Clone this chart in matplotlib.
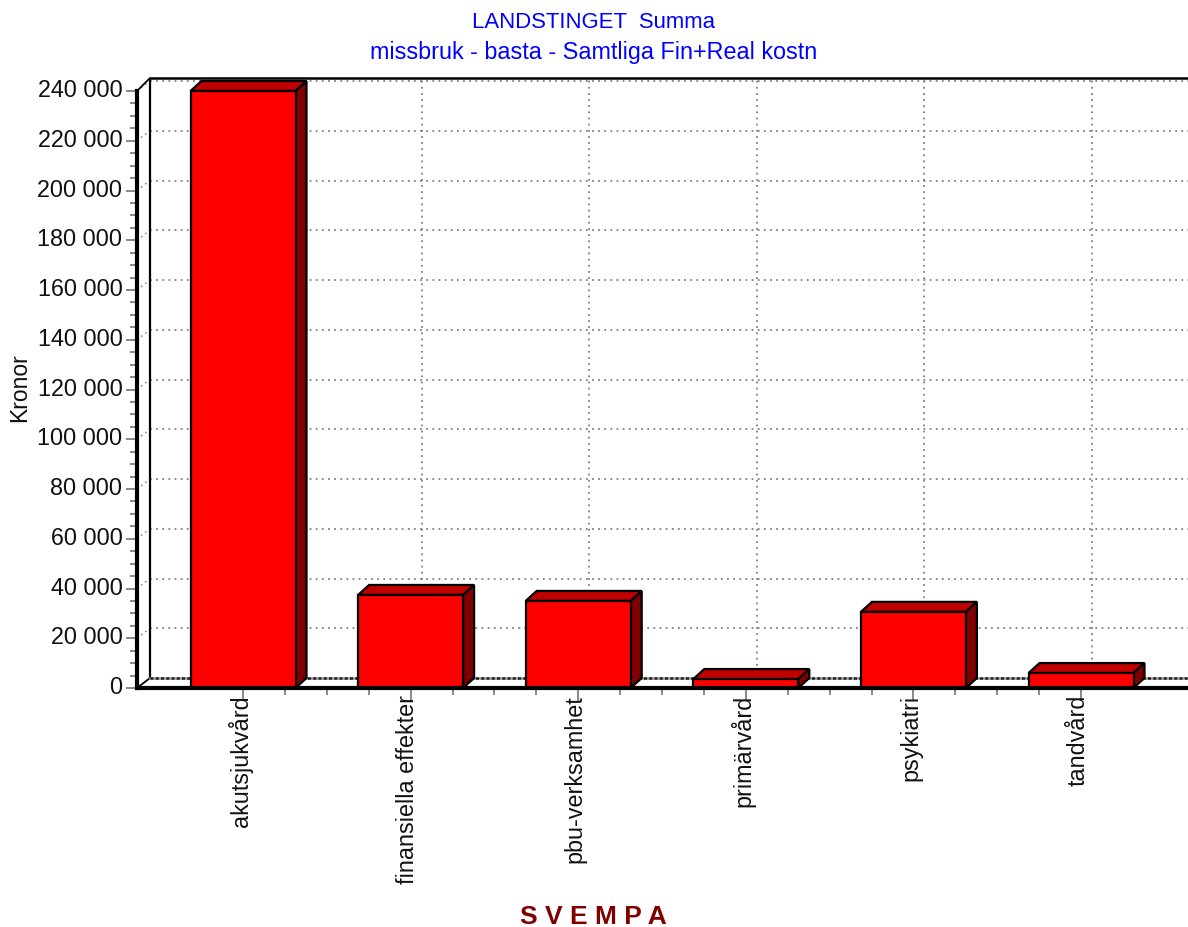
import numpy as np
import matplotlib
matplotlib.use('Agg')
import matplotlib.pyplot as plt
from matplotlib.patches import Polygon
from matplotlib.ticker import MultipleLocator, FuncFormatter
from matplotlib.transforms import ScaledTranslation

plt.rcParams['font.family'] = ['Liberation Sans', 'DejaVu Sans']

categorias = ['akutsjukvård', 'finansiella effekter', 'pbu-verksamhet', 'primärvård', 'psykiatri', 'tandvård']
valores = [240000, 37400, 35000, 3600, 30600, 6000]

W, H = 1188, 927
fig = plt.figure(figsize=(W / 100, H / 100), dpi=100)
ax = fig.add_axes([137 / W, 1 - 688 / H, 1 - 137 / W, (688 - 78) / H])

# escala: pixeles por categoria y por krona
px_x = 167.6
px_y = 597 / 240000
ax.set_xlim(-106 / px_x, (W - 243) / px_x)
ax.set_ylim(0, 610 / px_y)

# profundidad del falso 3D
dx = 11 / px_x
dy = 10 / px_y
ancho = 105 / px_x
xmin, xmax = ax.get_xlim()
ymax = ax.get_ylim()[1]
x_fondo = xmin + 13 / px_x

# cuadricula de la pared del fondo
gris = '#808080'
punteado = (0, (1, 2.4))
for y in np.arange(20000, 240001, 20000):
    ax.plot([x_fondo, xmax], [y + dy, y + dy], color=gris, ls=punteado, lw=1.3, zorder=1, clip_on=False)
    ax.plot([xmin, x_fondo], [y, y + dy], color=gris, ls=punteado, lw=1.1, zorder=1, clip_on=False)
for i in range(1, len(categorias)):
    ax.plot([i + dx, i + dx], [dy, ymax], color=gris, ls=punteado, lw=1.3, zorder=1)

# pared y suelo
ax.plot([x_fondo, xmax], [ymax, ymax], color='black', lw=1.8, zorder=2, clip_on=False)
ax.plot([x_fondo, x_fondo], [dy, ymax], color='black', lw=1.6, zorder=2)
ax.plot([xmin, x_fondo], [240000, ymax], color='black', lw=1.3, zorder=2)
ax.plot([xmin, x_fondo], [0, dy], color='black', lw=1.3, zorder=2)
ax.plot([x_fondo, xmax], [dy, dy], color='#999999', lw=1.8, zorder=2)
ax.plot([x_fondo, xmax], [dy, dy], color='#222222', ls=(0, (1.2, 0.9)), lw=1.8, zorder=2)

# barras
xs = np.arange(len(categorias))
ax.bar(xs, valores, width=ancho, color='#ff0000', edgecolor='black', linewidth=1.6, zorder=5)
for x, v in zip(xs, valores):
    x0 = x - ancho / 2
    x1 = x + ancho / 2
    ax.add_patch(Polygon([(x0, v), (x0 + dx, v + dy), (x1 + dx, v + dy), (x1, v)], closed=True,
                         facecolor='#c00000', edgecolor='black', lw=1.6, zorder=4, clip_on=False))
    ax.add_patch(Polygon([(x1, 0), (x1 + dx, dy), (x1 + dx, v + dy), (x1, v)], closed=True,
                         facecolor='#800000', edgecolor='black', lw=1.6, zorder=4, clip_on=False))

# ejes
for lado in ['top', 'right']:
    ax.spines[lado].set_visible(False)
ax.spines['left'].set_linewidth(3)
ax.spines['left'].set_bounds(0, 240000)
ax.spines['bottom'].set_linewidth(3)
ax.spines['left'].set_zorder(6)
ax.spines['bottom'].set_zorder(6)

ax.yaxis.set_major_locator(MultipleLocator(20000))
ax.yaxis.set_minor_locator(MultipleLocator(5000))
ax.yaxis.set_major_formatter(FuncFormatter(lambda v, pos: f'{int(v):,}'.replace(',', ' ')))
ax.set_yticks(np.arange(0, 240001, 20000))
ax.set_yticks(np.arange(0, 240001, 5000), minor=True)
ax.set_xticks(xs)
ax.set_xticks(np.arange(0, 5.01, 0.25), minor=True)
ax.set_xticklabels(categorias, rotation=90, fontsize=16.8, color='#111111')
ax.tick_params(axis='y', which='major', length=8, width=1.3, color=gris, labelsize=16.8, pad=2.5, labelcolor='#111111')
ax.tick_params(axis='y', which='minor', length=5, width=1.3, color=gris)
ax.tick_params(axis='x', which='major', length=9, width=1.3, color=gris, pad=-4)
ax.tick_params(axis='x', which='minor', length=5, width=1.3, color=gris)

# las etiquetas del eje y van un poco por encima de su marca
subir = ScaledTranslation(0, 2 / 72, fig.dpi_scale_trans)
for t in ax.get_yticklabels():
    t.set_transform(t.get_transform() + subir)
izq = ScaledTranslation(-2 / 72, 0, fig.dpi_scale_trans)
for t in ax.get_xticklabels():
    t.set_transform(t.get_transform() + izq)

# textos
fig.text(594 / W, 1 - 22 / H, 'LANDSTINGET  Summa', color='#0000ff', fontsize=15.9, ha='center', va='center')
fig.text(594 / W, 1 - 52 / H, 'missbruk - basta - Samtliga Fin+Real kostn', color='#0000ff', fontsize=16.8, ha='center', va='center')
fig.text(593 / W, 1 - 917 / H, 'S V E M P A', color='#800000', fontsize=19, fontweight='bold', ha='center', va='center')
fig.text(20 / W, 1 - 388 / H, 'Kronor', fontsize=16.5, rotation=90, ha='center', va='center', color='#111111')

fig.savefig('out.png', dpi=100)
